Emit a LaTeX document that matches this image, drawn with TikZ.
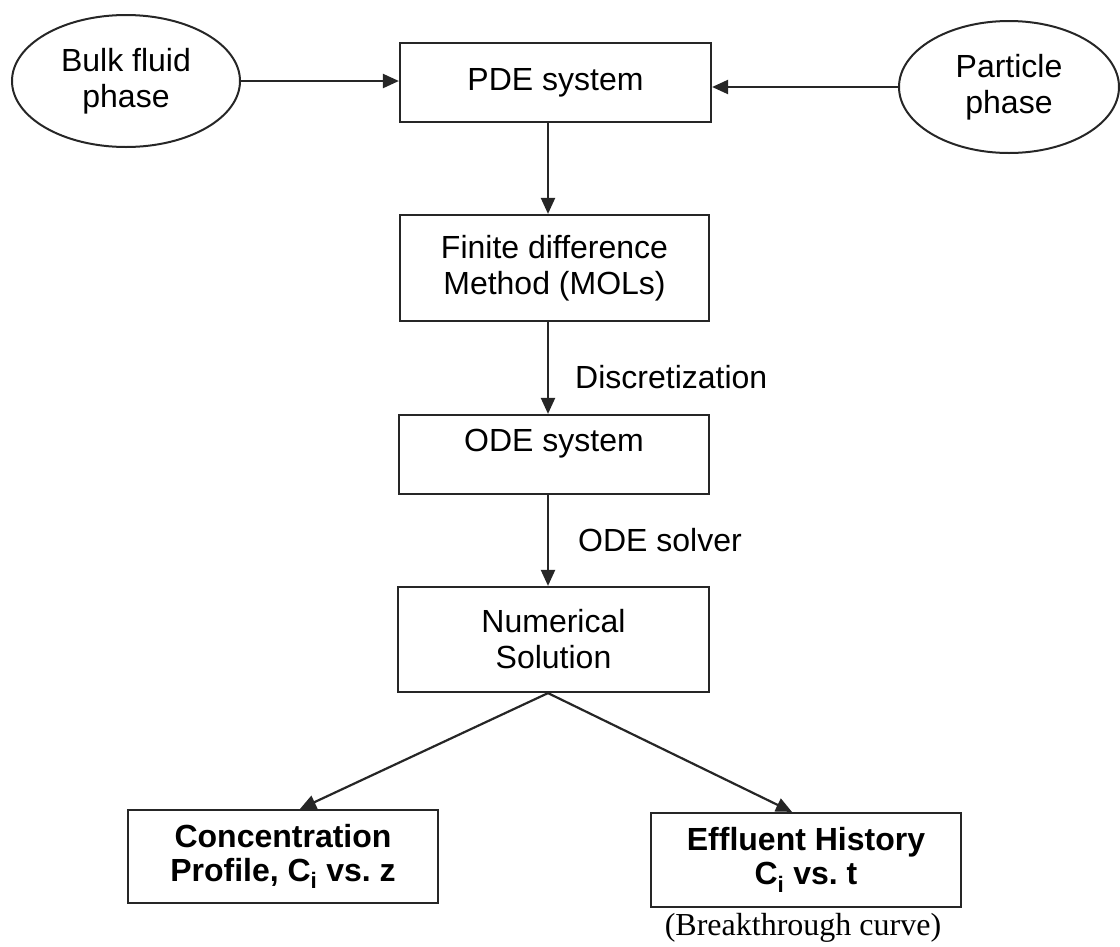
\documentclass[tikz,border=0pt]{standalone}
\usepackage{fontspec}
\setmainfont{Liberation Sans}
\newfontfamily\timesfont{Liberation Serif}
\usetikzlibrary{arrows.meta,shapes.geometric}
\begin{document}
\begin{tikzpicture}[x=1pt,y=-1pt,
  every node/.style={font=\fontsize{32}{36}\selectfont, inner sep=0pt},
  box/.style={draw=black!85, line width=2.2pt, rectangle, align=center},
  oval/.style={draw=black!85, line width=2pt, ellipse, align=center},
  boldtxt/.style={font=\fontsize{32}{34}\selectfont\bfseries},
  arr/.style={draw=black!85, line width=2.2pt, -{Triangle[length=16pt,width=14pt]}},
]
\useasboundingbox (0,0) rectangle (1120,946);
\coordinate (col) at (548,0);
\coordinate (cl) at (300,0);
\coordinate (cr) at (792,0);

\node[oval, minimum width=228pt, minimum height=132pt] (bulk) at (126,81) {Bulk fluid\\phase};
\node[oval, minimum width=220pt, minimum height=132pt] (part) at (1009,87) {Particle\\phase};
\node[box, minimum width=311pt, minimum height=79pt] (pde) at (555.5,82.5) {PDE system};
\node[box, minimum width=309pt, minimum height=106pt] (fdm) at (554.5,268) {Finite difference\\Method (MOLs)};
\node[box, minimum width=310pt, minimum height=79pt] (ode) at (554,454.5) {};
\node (odet) at (554,444) {ODE system};
\node[box, minimum width=311pt, minimum height=105pt] (num) at (553.5,639.5) {Numerical\\Solution};
\node[box, boldtxt, minimum width=310pt, minimum height=93pt] (conc) at (283,856.5) {Concentration\\Profile, C\textsubscript{i} vs.\ z};
\node[box, boldtxt, minimum width=310pt, minimum height=94pt] (eff) at (806,860) {Effluent History\\C\textsubscript{i} vs.\ t};
\node[font=\timesfont\fontsize{32}{36}\selectfont] (bt) at (803,928) {(Breakthrough curve)};

\node[anchor=west] (disc) at (575,377) {Discretization};
\node[anchor=west] (solv) at (578,540) {ODE solver};

\draw[arr] (bulk.east) -- (bulk.east -| pde.west);
\draw[arr] (part.west) -- (part.west -| pde.east);
\draw[arr] (pde.south -| col) -- (fdm.north -| col);
\draw[arr] (fdm.south -| col) -- (ode.north -| col);
\draw[arr] (ode.south -| col) -- (num.north -| col);
\draw[arr] (num.south -| col) -- (conc.north -| cl);
\draw[arr] (num.south -| col) -- (eff.north -| cr);
\end{tikzpicture}
\end{document}
